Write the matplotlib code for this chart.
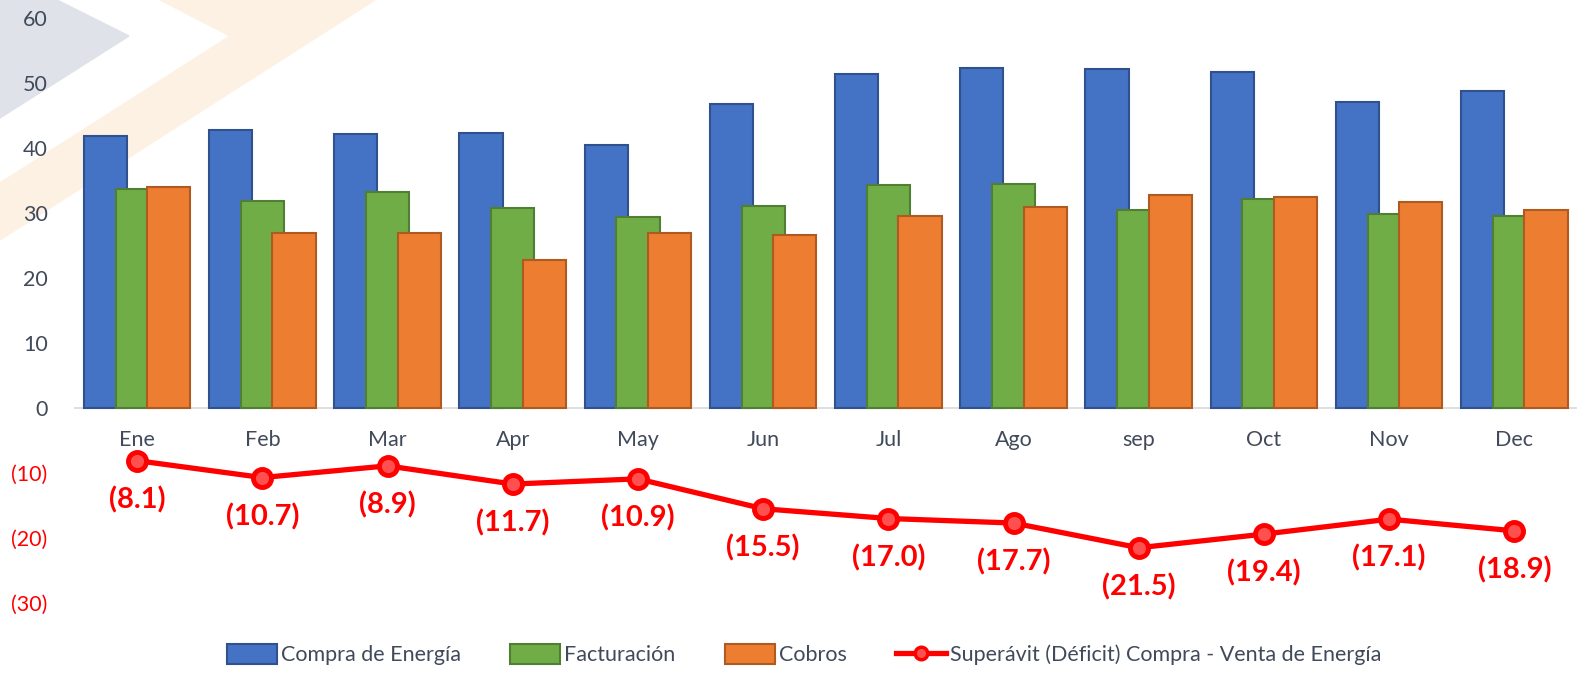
import matplotlib.pyplot as plt
from matplotlib.patches import Polygon, Patch
from matplotlib.lines import Line2D

plt.rcParams['font.family'] = ['Lato', 'DejaVu Sans']

months = ["Ene", "Feb", "Mar", "Apr", "May", "Jun", "Jul", "Ago", "sep", "Oct", "Nov", "Dec"]
compra = [41.9, 42.7, 42.2, 42.3, 40.5, 46.8, 51.4, 52.3, 52.2, 51.7, 47.1, 48.7]
facturacion = [33.7, 31.8, 33.2, 30.7, 29.4, 31.1, 34.3, 34.4, 30.5, 32.2, 29.8, 29.5]
cobros = [34.0, 26.9, 27.0, 22.8, 27.0, 26.6, 29.5, 31.0, 32.7, 32.5, 31.7, 30.4]
superavit = [-8.1, -10.7, -8.9, -11.7, -10.9, -15.5, -17.0, -17.7, -21.5, -19.4, -17.1, -18.9]

ytick_vals = [-30, -20, -10, 0, 10, 20, 30, 40, 50, 60]

fig = plt.figure(figsize=(15.77, 6.73), dpi=100)

# faint background shapes (figure pixel coords, origin top-left)
W, H = 1577, 673
def px(pts):
    return [(x / W, 1 - y / H) for x, y in pts]

fig.patches.append(Polygon(px([(0, 0), (57, 0), (129, 36), (0, 118)]),
                           transform=fig.transFigure, color="#dfe2e8", zorder=-1))
fig.patches.append(Polygon(px([(160, 0), (375, 0), (0, 240), (0, 183), (230, 36)]),
                           transform=fig.transFigure, color="#fdf1e3", zorder=-1))

ax = fig.add_axes([74 / W, 44 / H, (W - 74) / W, 611 / H])
ax.patch.set_alpha(0)

x = list(range(len(months)))
w = 0.345
off = 0.253
blue, green, orange = "#4472c4", "#70ad47", "#ed7d31"
ax.bar([i - off for i in x], compra, w, color=blue, edgecolor="#2f528f", linewidth=1.5, zorder=2)
ax.bar(x, facturacion, w, color=green, edgecolor="#507e32", linewidth=1.5, zorder=3)
ax.bar([i + off for i in x], cobros, w, color=orange, edgecolor="#ae5a21", linewidth=1.5, zorder=4)

ax.axhline(0, color="#d9d9d9", linewidth=1.2, zorder=1)

ax.plot(x, superavit, color="#ff0000", linewidth=3.8, marker="o", markersize=13,
        markerfacecolor="#ff5050", markeredgecolor="#ff0000", markeredgewidth=3.5, zorder=5)

for i, v in enumerate(superavit):
    ax.annotate("({:.1f})".format(-v), (i, v), xytext=(0, -28), textcoords="offset points",
                ha="center", va="center", fontsize=21, fontweight="bold", color="#ff0000")

for i, m in enumerate(months):
    ax.text(i, -5.0, m, ha="center", va="center", fontsize=15.5, color="#404a5a")

ax.set_xlim(-0.504, 11.5)
ax.set_ylim(-34, 60)
ax.set_xticks([])
ax.set_yticks(ytick_vals)
ax.set_yticklabels(["({})".format(-v) if v < 0 else str(v) for v in ytick_vals])
for lab, v in zip(ax.get_yticklabels(), ytick_vals):
    lab.set_color("#ff0000" if v < 0 else "#404a5a")
ax.tick_params(axis="y", length=0, pad=19, labelsize=15.5)
for s in ax.spines.values():
    s.set_visible(False)

handles = [
    Patch(facecolor=blue, edgecolor="#2f528f", linewidth=1.5),
    Patch(facecolor=green, edgecolor="#507e32", linewidth=1.5),
    Patch(facecolor=orange, edgecolor="#ae5a21", linewidth=1.5),
    Line2D([], [], color="#ff0000", linewidth=3.8, marker="o", markersize=9,
           markerfacecolor="#ff5050", markeredgecolor="#ff0000", markeredgewidth=2.5),
]
labels = ["Compra de Energía", "Facturación", "Cobros", "Superávit (Déficit) Compra - Venta de Energía"]
fig.legend(handles, labels, loc="center", bbox_to_anchor=(0.51, 0.027), ncol=4, frameon=False,
           fontsize=15.5, handlelength=2.3, handleheight=1.0, handletextpad=0.2, columnspacing=2.3,
           labelcolor="#404a5a")

fig.savefig("out.png", dpi=100)
